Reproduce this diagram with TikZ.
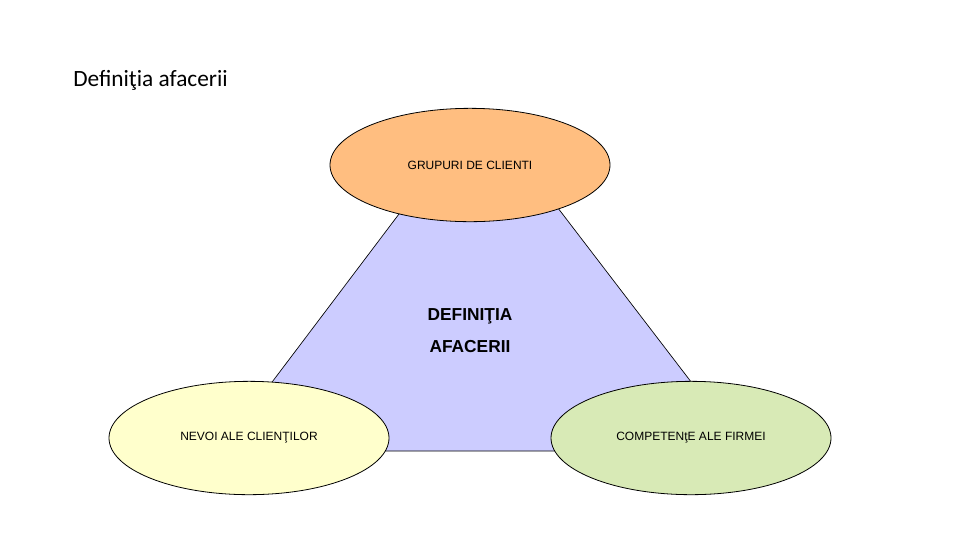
\documentclass[tikz,border=0pt]{standalone}
\usepackage{fontspec}
\setmainfont{Liberation Sans}
\newfontfamily\titlefont{Carlito}
\usetikzlibrary{shapes.geometric}
\definecolor{ovalorange}{RGB}{255,190,128}
\definecolor{ovalyellow}{RGB}{255,255,204}
\definecolor{ovalgreen}{RGB}{216,234,182}
\definecolor{trapblue}{RGB}{204,204,255}
\begin{document}
\begin{tikzpicture}[x=0.75pt, y=-0.75pt,
  oval/.style={ellipse, draw=black, line width=0.6pt, minimum width=210pt, minimum height=85pt, inner sep=0pt, font=\fontsize{9}{11}\selectfont}]
  \useasboundingbox (0,0) rectangle (960,540);

  % title
  \node[anchor=west, inner sep=0pt, font=\titlefont\fontsize{17.5}{20}\selectfont] (title) at (73,80) {Definiţia afacerii};

  % central trapezoid
  \draw[fill=trapblue, line width=0.5pt] (436,165) -- (525,165) -- (744,451) -- (220,451) -- cycle;
  \node[align=center, font=\bfseries\fontsize{13}{24}\selectfont] (core) at (470,331) {DEFINIŢIA\\AFACERII};

  % the three ovals
  \node[oval, fill=ovalorange] (grupuri) at (470,165) {GRUPURI DE CLIENTI};
  \node[oval, fill=ovalyellow] (nevoi) at (249,438) {NEVOI ALE CLIENŢILOR};
  \node[oval, fill=ovalgreen] (competente) at (691,438) {COMPETENţE ALE FIRMEI};
\end{tikzpicture}
\end{document}
